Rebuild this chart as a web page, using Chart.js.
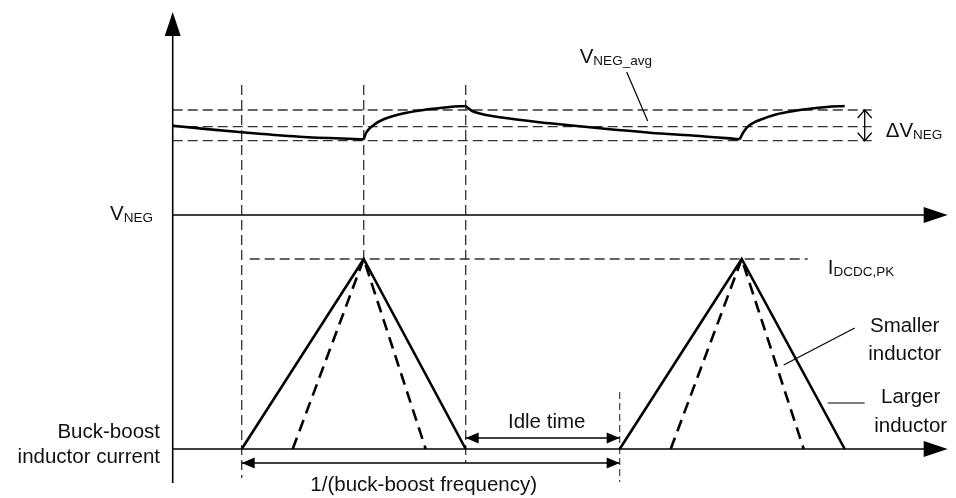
<!DOCTYPE html>
<html>
<head>
<meta charset="utf-8">
<script src="https://cdn.jsdelivr.net/npm/chart.js@4.4.1/dist/chart.umd.min.js"></script>
<style>
  html, body { margin: 0; padding: 0; background: #fff; }
  canvas { display: block; }
</style>
</head>
<body>
<canvas id="chart" width="956" height="498"></canvas>
<script>
// time in us, VNEG ripple in mV above the VNEG axis, inductor current in A

// VNEG waveform, one array per smooth piece
const vDecay1 = [[0, 89.3], [0.69, 82.7], [1.27, 78.3], [1.91, 75.7]];
const vRise1 = [[1.91, 75.7], [1.94, 83.3], [2.01, 90], [2.11, 95.7], [2.27, 100.7], [2.44, 104], [2.61, 106.3], [2.77, 108], [2.93, 109]];
const vDecay2 = [[2.93, 109], [3.01, 103.3], [3.27, 97.7], [3.77, 91.7], [4.27, 86.7], [4.77, 82.3], [5.27, 79], [5.67, 75.7]];
const vRise2 = [[5.67, 75.7], [5.71, 83.3], [5.77, 90], [5.87, 95], [6.04, 100.7], [6.21, 104], [6.37, 106.3], [6.54, 108], [6.72, 109]];

// ripple levels: max, average, min
const vLevels = [105, 88.3, 74.3];

// inductor current triangles
const iLarge1 = [[0.69, 0], [1.91, 1.9], [2.93, 0]];
const iSmall1 = [[1.20, 0], [1.91, 1.9], [2.53, 0]];
const iLarge2 = [[4.47, 0], [5.69, 1.9], [6.72, 0]];
const iSmall2 = [[4.98, 0], [5.69, 1.9], [6.31, 0]];
const iPeak = 1.9;

// timing marks: period start, peak, end of conduction, next period
const tMarks = [0.69, 1.91, 2.93, 4.47];

const pts = arr => arr.map(p => ({ x: p[0], y: p[1] }));
const FONT = '"Liberation Sans", Arial, sans-serif';

function solid(data, axis, width) {
    return { data: pts(data), yAxisID: axis, showLine: true, borderColor: '#000',
             borderWidth: width, pointRadius: 0, tension: 0, fill: false };
}
function curve(data) {
    const d = solid(data, 'yV', 2.6);
    d.tension = 0.35;
    return d;
}
function dashed(data, axis, width, dash, color) {
    const d = solid(data, axis, width);
    d.borderDash = dash;
    d.borderColor = color || '#000';
    return d;
}

const refColor = '#333';
const datasets = [
    curve(vDecay1), curve(vRise1), curve(vDecay2), curve(vRise2),
    solid(iLarge1, 'yI', 2.6), solid(iLarge2, 'yI', 2.6),
    dashed(iSmall1, 'yI', 2.6, [12, 7]), dashed(iSmall2, 'yI', 2.6, [12, 7]),
    // axes
    solid([[0, -0.34], [0, 4.2]], 'yI', 1.6),
    solid([[0, 0], [7.6, 0]], 'yV', 1.6),
    solid([[0, 0], [7.6, 0]], 'yI', 1.6),
    // reference lines
    dashed([[0.77, iPeak], [6.35, iPeak]], 'yI', 1.3, [10, 5], refColor),
    dashed([[tMarks[0], 3.64], [tMarks[0], -0.29]], 'yI', 1.3, [10, 5], refColor),
    dashed([[tMarks[1], 3.64], [tMarks[1], iPeak]], 'yI', 1.3, [10, 5], refColor),
    dashed([[tMarks[2], 3.64], [tMarks[2], -0.14]], 'yI', 1.3, [10, 5], refColor),
    dashed([[tMarks[3], 0.57], [tMarks[3], -0.33]], 'yI', 1.1, [7, 4], refColor)
];
vLevels.forEach(v => datasets.push(dashed([[0, v], [6.99, v]], 'yV', 1.3, [10, 5], refColor)));

function arrowHead(ctx, x, y, ang, len, half) {
    ctx.beginPath();
    ctx.moveTo(x, y);
    ctx.lineTo(x - len * Math.cos(ang) + half * Math.sin(ang), y - len * Math.sin(ang) - half * Math.cos(ang));
    ctx.lineTo(x - len * Math.cos(ang) - half * Math.sin(ang), y - len * Math.sin(ang) + half * Math.cos(ang));
    ctx.closePath();
    ctx.fill();
}
function openHead(ctx, x, y, ang, len, half) {
    ctx.beginPath();
    ctx.moveTo(x - len * Math.cos(ang) + half * Math.sin(ang), y - len * Math.sin(ang) - half * Math.cos(ang));
    ctx.lineTo(x, y);
    ctx.lineTo(x - len * Math.cos(ang) - half * Math.sin(ang), y - len * Math.sin(ang) + half * Math.cos(ang));
    ctx.stroke();
}
function subLabel(ctx, main, sub, x, y) {
    ctx.textAlign = 'left';
    ctx.font = '20.5px ' + FONT;
    ctx.fillText(main, x, y);
    const w = ctx.measureText(main).width;
    ctx.font = '13.5px ' + FONT;
    ctx.fillText(sub, x + w, y + 2);
}

const overlay = {
    id: 'overlay',
    afterDatasetsDraw(chart) {
        const ctx = chart.ctx;
        const X = t => chart.scales.x.getPixelForValue(t);
        const V = v => chart.scales.yV.getPixelForValue(v);
        const I = i => chart.scales.yI.getPixelForValue(i);
        ctx.save();
        ctx.fillStyle = '#000';
        ctx.strokeStyle = '#000';

        // axis arrowheads
        arrowHead(ctx, X(0), I(4.37), -Math.PI / 2, 24, 8);
        arrowHead(ctx, X(7.75), V(0), 0, 24, 8);
        arrowHead(ctx, X(7.75), I(0), 0, 24, 8);

        // delta VNEG arrow
        ctx.lineWidth = 1.3;
        ctx.beginPath();
        ctx.moveTo(X(6.92), V(vLevels[0]));
        ctx.lineTo(X(6.92), V(vLevels[2]));
        ctx.stroke();
        openHead(ctx, X(6.92), V(vLevels[0]), -Math.PI / 2, 8, 7);
        openHead(ctx, X(6.92), V(vLevels[2]), Math.PI / 2, 8, 7);

        // idle time and period arrows
        [[tMarks[2], tMarks[3], 0.11], [tMarks[0], tMarks[3], -0.14]].forEach(a => {
            ctx.lineWidth = 1.3;
            ctx.beginPath();
            ctx.moveTo(X(a[0]), I(a[2]));
            ctx.lineTo(X(a[1]), I(a[2]));
            ctx.stroke();
            arrowHead(ctx, X(a[0]), I(a[2]), Math.PI, 13, 5.5);
            arrowHead(ctx, X(a[1]), I(a[2]), 0, 13, 5.5);
        });

        // leader lines
        ctx.lineWidth = 1.2;
        ctx.beginPath();
        ctx.moveTo(X(4.54), V(143)); ctx.lineTo(X(4.75), V(94));
        ctx.moveTo(X(6.82), I(1.21)); ctx.lineTo(X(6.11), I(0.84));
        ctx.moveTo(X(6.55), I(0.46)); ctx.lineTo(X(6.92), I(0.46));
        ctx.stroke();

        // labels
        ctx.fillStyle = '#111';
        ctx.textBaseline = 'alphabetic';
        subLabel(ctx, 'V', 'NEG', X(-0.627), V(-5));
        subLabel(ctx, 'V', 'NEG_avg', X(4.07), V(152));
        subLabel(ctx, '\u0394V', 'NEG', X(7.13), V(78));
        subLabel(ctx, 'I', 'DCDC,PK', X(6.55), I(1.75));

        ctx.font = '20.5px ' + FONT;
        ctx.textAlign = 'center';
        ctx.fillText('Smaller', X(7.32), I(1.17));
        ctx.fillText('inductor', X(7.32), I(0.89));
        ctx.fillText('Larger', X(7.38), I(0.46));
        ctx.fillText('inductor', X(7.38), I(0.17));
        ctx.fillText('Idle time', X(3.74), I(0.207));
        ctx.fillText('1/(buck-boost frequency)', X(2.51), I(-0.415));
        ctx.textAlign = 'right';
        ctx.fillText('Buck-boost', X(-0.127), I(0.11));
        ctx.fillText('inductor current', X(-0.127), I(-0.137));
        ctx.restore();
    }
};

new Chart(document.getElementById('chart').getContext('2d'), {
    type: 'scatter',
    data: { datasets: datasets },
    options: {
        responsive: false,
        animation: false,
        layout: { padding: 0 },
        plugins: { legend: { display: false }, tooltip: { enabled: false } },
        scales: {
            x: { type: 'linear', min: -1.727, max: 7.833, display: false },
            yV: { type: 'linear', min: -283, max: 215, display: false },
            yI: { type: 'linear', min: -0.49, max: 4.49, display: false }
        }
    },
    plugins: [overlay]
});
</script>
</body>
</html>
